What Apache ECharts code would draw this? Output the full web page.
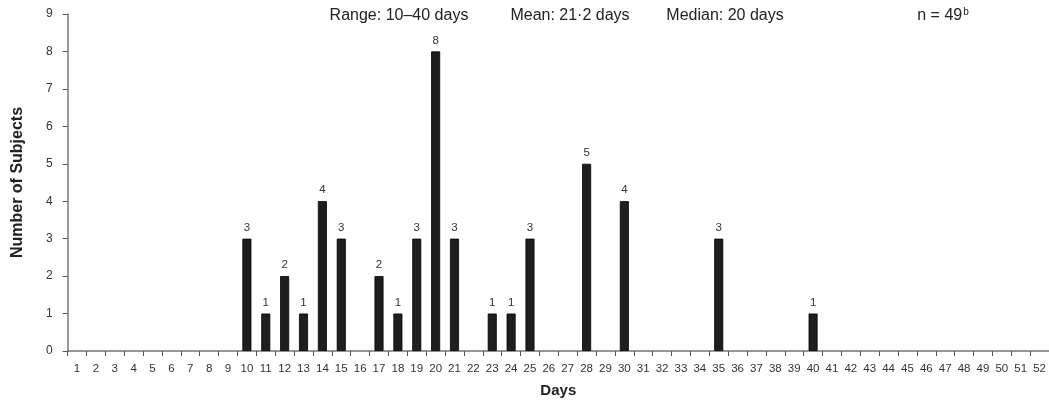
<!DOCTYPE html>
<html><head><meta charset="utf-8">
<script src="https://cdn.jsdelivr.net/npm/echarts@6/dist/echarts.min.js"></script>
<style>html,body{margin:0;padding:0;background:#fff}#c{width:1049px;height:404px}</style>
</head><body><div id="c"></div>
<script>
const days = [];
for (let d = 1; d <= 52; d++) days.push(String(d));
const barDays = [10, 11, 12, 13, 14, 15, 17, 18, 19, 20, 21, 23, 24, 25, 28, 30, 35, 40];
const subjects = [3, 1, 2, 1, 4, 3, 2, 1, 3, 8, 3, 1, 1, 3, 5, 4, 3, 1];
const yTicks = [0, 1, 2, 3, 4, 5, 6, 7, 8, 9];
const annotations = ['Range: 10\u201340 days', 'Mean: 21\u00b72 days', 'Median: 20 days'];

const seriesData = days.map(d => {
  const i = barDays.indexOf(Number(d));
  return i >= 0 ? subjects[i] : null;
});

const chart = echarts.init(document.getElementById('c'));
const font = 'Liberation Sans, Arial, sans-serif';
chart.setOption({
  animation: false,
  textStyle: { fontFamily: font },
  grid: { left: 67.6, right: 0, top: 14, bottom: 53 },
  graphic: [
    { type: 'text', x: 399, y: 16, style: { text: annotations[0], font: '16px ' + font, fill: '#222', align: 'center', verticalAlign: 'middle' } },
    { type: 'text', x: 570, y: 16, style: { text: annotations[1], font: '16px ' + font, fill: '#222', align: 'center', verticalAlign: 'middle' } },
    { type: 'text', x: 725, y: 16, style: { text: annotations[2], font: '16px ' + font, fill: '#222', align: 'center', verticalAlign: 'middle' } },
    { type: 'text', x: 943, y: 16, style: { text: '{a|n = 49}{b|b}', align: 'center', verticalAlign: 'middle',
        rich: { a: { fontSize: 16, fill: '#222', fontFamily: font },
                b: { fontSize: 10, fill: '#222', fontFamily: font, padding: [0, 0, 8, 1] } } } }
  ],
  xAxis: {
    type: 'category',
    data: days,
    name: 'Days',
    nameLocation: 'middle',
    nameGap: 32,
    nameTextStyle: { fontSize: 15, fontWeight: 'bold', color: '#222' },
    axisLine: { lineStyle: { color: '#777', width: 1.5 } },
    axisTick: { show: true, alignWithLabel: false, length: 5, lineStyle: { color: '#555' } },
    axisLabel: { interval: 0, fontSize: 11.5, color: '#333', margin: 12 },
    boundaryGap: true
  },
  yAxis: {
    type: 'value',
    min: 0, max: 9, interval: 1,
    name: 'Number of Subjects',
    nameLocation: 'middle',
    nameGap: 42,
    nameTextStyle: { fontSize: 16, fontWeight: 'bold', color: '#222' },
    axisLine: { show: true, lineStyle: { color: '#777', width: 1.5 } },
    axisTick: { show: true, length: 5, lineStyle: { color: '#555' } },
    axisLabel: { fontSize: 12, color: '#333', margin: 15, formatter: v => yTicks.includes(v) ? String(v) : '' },
    splitLine: { show: false }
  },
  series: [{
    type: 'bar',
    data: seriesData,
    barWidth: 9,
    itemStyle: { color: '#1e1e1e', borderColor: '#000', borderWidth: 0.8 },
    label: { show: true, position: 'top', distance: 5, fontSize: 11.5, color: '#333' }
  }]
});
</script></body></html>
